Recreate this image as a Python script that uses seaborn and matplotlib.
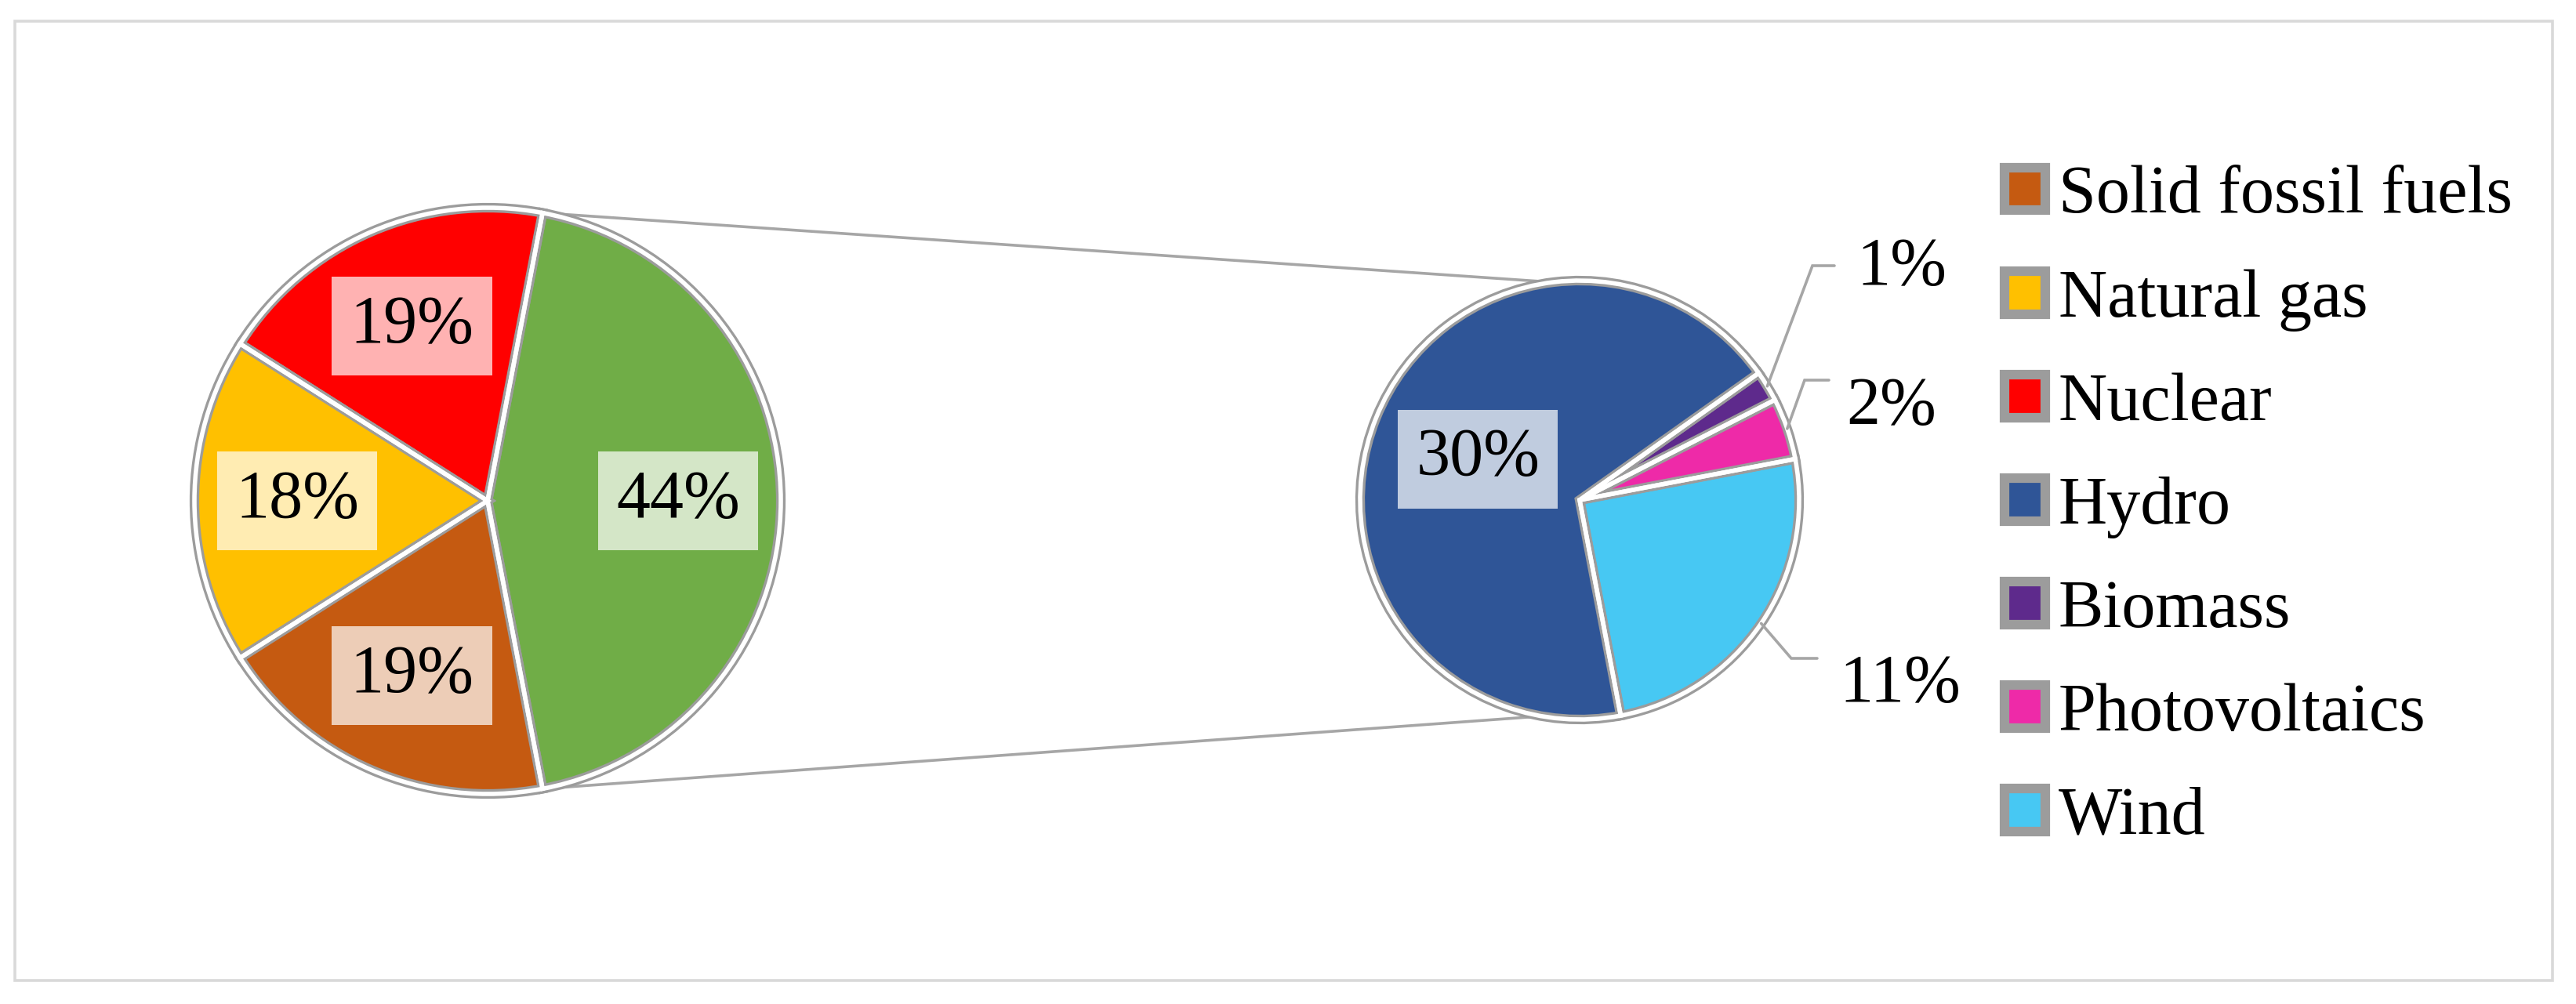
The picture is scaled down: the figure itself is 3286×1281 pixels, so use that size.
import numpy as np
import matplotlib
matplotlib.use("Agg")
import matplotlib.pyplot as plt
from matplotlib.patches import Rectangle
import seaborn as sns

# ---------------- data ----------------
main_labels = ["Solid fossil fuels", "Natural gas", "Nuclear", "Renewables"]
main_values = [19, 18, 19, 44]
sub_labels = ["Hydro", "Biomass", "Photovoltaics", "Wind"]
sub_values = [30, 1, 2, 11]
main_colors = ["#C55A11", "#FFC000", "#FF0000", "#70AD47"]
sub_colors = ["#2F5597", "#5E2A8C", "#EE2AA8", "#47C8F3"]
legend_labels = ["Solid fossil fuels", "Natural gas", "Nuclear",
                 "Hydro", "Biomass", "Photovoltaics", "Wind"]

# ---------------- layout ----------------
W, H = 3286, 1281
DPI = 200
sns.set_theme(style="white")
plt.rcParams["font.family"] = ["Liberation Serif", "DejaVu Serif"]

fig = plt.figure(figsize=(W / DPI, H / DPI), dpi=DPI)
fig.patch.set_facecolor("white")
ax = fig.add_axes([0, 0, 1, 1])
ax.set_xlim(0, W)
ax.set_ylim(0, H)
ax.set_autoscale_on(False)


def Y(y):
    return H - y


RIM = "#9C9C9C"
start = -main_values[3] / sum(main_values) * 180.0

# left (main) pie: counter-clockwise Renewables, Nuclear, Natural gas, Solid
order_main = [3, 2, 1, 0]
c1 = (622, Y(639))
r1 = 374
pie_kw = dict(startangle=start, counterclock=True, frame=True)
mw, _ = ax.pie([main_values[i] for i in order_main],
               colors=[main_colors[i] for i in order_main],
               center=c1, radius=r1, explode=[0.02, 0, 0, 0],
               wedgeprops=dict(edgecolor=RIM, linewidth=4.4), **pie_kw)
ax.pie([main_values[i] for i in order_main], center=c1, radius=r1,
       explode=[0.02, 0, 0, 0],
       wedgeprops=dict(facecolor="none", edgecolor="white", linewidth=2.0),
       **pie_kw)
main_w = {main_labels[i]: w for i, w in zip(order_main, mw)}

# right (sub) pie: counter-clockwise Wind, Photovoltaics, Biomass, Hydro
order_sub = [3, 2, 1, 0]
c2 = (2015, Y(638))
r2 = 280
sub_explode = [0.03, 0.025, 0.025, 0.0]
sw, _ = ax.pie([sub_values[i] for i in order_sub],
               colors=[sub_colors[i] for i in order_sub],
               center=c2, radius=r2, explode=sub_explode,
               wedgeprops=dict(edgecolor=RIM, linewidth=4.4), **pie_kw)
ax.pie([sub_values[i] for i in order_sub], center=c2, radius=r2,
       explode=sub_explode,
       wedgeprops=dict(facecolor="none", edgecolor="white", linewidth=2.0),
       **pie_kw)
sub_w = {sub_labels[i]: w for i, w in zip(order_sub, sw)}

ax.set_xlim(0, W)
ax.set_ylim(0, H)
ax.set_aspect("equal")
ax.axis("off")


def wedge_point(w, frac, ang=None):
    if ang is None:
        ang = (w.theta1 + w.theta2) / 2.0
    a = np.deg2rad(ang)
    return (w.center[0] + frac * w.r * np.cos(a),
            w.center[1] + frac * w.r * np.sin(a))


box = dict(boxstyle="square,pad=0.27", facecolor="white", edgecolor="none",
           alpha=0.7)

# inside labels, main pie
for name, val in zip(main_labels, main_values):
    x, y = wedge_point(main_w[name], 0.65)
    ax.text(x, y, f"{val}%", ha="center", va="center", fontsize=31,
            color="black", bbox=box, zorder=5)

# inside label, hydro
hx, hy = wedge_point(sub_w["Hydro"], 0.5)
ax.text(hx, hy, f"{sub_values[0]}%", ha="center", va="center", fontsize=31,
        color="black", bbox=box, zorder=5)

# outside labels with leader lines
LEAD = "#A6A6A6"
leaders = {
    "Biomass": ((2312, Y(339)), (2340, Y(339)), (2368, Y(342))),
    "Photovoltaics": ((2302, Y(485)), (2333, Y(485)), (2355, Y(520))),
    "Wind": ((2285, Y(840)), (2318, Y(840)), (2346, Y(874))),
}
for name, (elbow, end, tpos) in leaders.items():
    x0, y0 = wedge_point(sub_w[name], 1.0)
    ax.plot([x0, elbow[0], end[0]], [y0, elbow[1], end[1]], color=LEAD,
            lw=1.3, solid_joinstyle="miter", zorder=4)
    val = sub_values[sub_labels.index(name)]
    ax.text(tpos[0], tpos[1], f"{val}%", ha="left", va="center",
            fontsize=31, color="black")

# connector lines between the pies
gw = main_w["Renewables"]
hw = sub_w["Hydro"]
top_start = wedge_point(gw, 1.0, gw.theta2)
bot_start = wedge_point(gw, 1.0, gw.theta1)
top_end = (hw.center[0] + r2 * np.cos(np.deg2rad(97)),
           hw.center[1] + r2 * np.sin(np.deg2rad(97)))
bot_end = (hw.center[0] + r2 * np.cos(np.deg2rad(-100)),
           hw.center[1] + r2 * np.sin(np.deg2rad(-100)))
for s, e in ((top_start, top_end), (bot_start, bot_end)):
    ax.plot([s[0], e[0]], [s[1], e[1]], color=LEAD, lw=1.3, zorder=0.5)

# legend
handles = [main_w[n] for n in main_labels[:3]] + [sub_w[n] for n in sub_labels]
leg = ax.legend(handles, legend_labels, loc="upper left",
                bbox_to_anchor=(2557, Y(211)), bbox_transform=ax.transData,
                frameon=False, fontsize=31, handlelength=0.6,
                handleheight=0.6, handletextpad=0.2, labelspacing=0.61,
                borderpad=0, borderaxespad=0)
for t in leg.get_texts():
    t.set_color("black")

# outer frame
ax.add_patch(Rectangle((19, Y(1251)), 3256 - 19, 1251 - 27, fill=False,
                       edgecolor="#D9D9D9", linewidth=1.3, zorder=0))

fig.savefig("out.png", dpi=DPI, facecolor="white")
